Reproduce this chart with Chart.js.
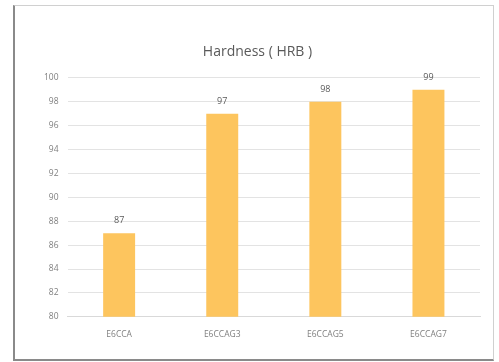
<!DOCTYPE html>
<html>
<head>
<meta charset="utf-8">
<script src="https://cdn.jsdelivr.net/npm/chart.js@4"></script>
<style>
  body { margin: 0; background: #fff; }
  .frame {
    position: absolute; left: 13px; top: 5px; width: 478px; height: 353px;
    border: 1px solid #d0d0d0; border-left: 2px solid #8a8a8a; border-bottom: 2px solid #8a8a8a;
    background: #fff;
  }
  canvas { display: block; }
</style>
</head>
<body>
<div class="frame"><canvas id="c" width="478" height="353"></canvas></div>
<script>
// chart data
const categories = ["E6CCA", "E6CCAG3", "E6CCAG5", "E6CCAG7"];
const hardness = [87, 97, 98, 99];
const yTicks = [80, 82, 84, 86, 88, 90, 92, 94, 96, 98, 100];

// draws the value over each bar
const valueLabels = {
  id: "valueLabels",
  afterDatasetsDraw(chart) {
    const ctx = chart.ctx;
    const meta = chart.getDatasetMeta(0);
    ctx.save();
    ctx.font = "9px 'Open Sans', sans-serif";
    ctx.fillStyle = "#595959";
    ctx.textAlign = "center";
    ctx.textBaseline = "bottom";
    meta.data.forEach((bar, i) => {
      ctx.fillText(hardness[i], bar.x, bar.y - 8);
    });
    ctx.restore();
  }
};

new Chart(document.getElementById("c"), {
  type: "bar",
  data: {
    labels: categories,
    datasets: [{
      data: hardness,
      backgroundColor: "#fdc55e",
      barPercentage: 0.31,
      categoryPercentage: 1
    }]
  },
  options: {
    responsive: false,
    animation: false,
    layout: { padding: { top: 38, left: 20, right: 13, bottom: 14 } },
    plugins: {
      legend: { display: false },
      tooltip: { enabled: false },
      title: {
        display: true,
        text: "Hardness ( HRB )",
        color: "#595959",
        font: { family: "'Open Sans', sans-serif", size: 14, weight: "normal" },
        padding: { top: 0, bottom: 17 }
      }
    },
    scales: {
      x: {
        grid: { display: false },
        border: { display: true, color: "#d9d9d9" },
        ticks: { color: "#7f7f7f", font: { family: "'Open Sans', sans-serif", size: 8.5 }, padding: 5 }
      },
      y: {
        min: yTicks[0],
        max: yTicks[yTicks.length - 1],
        afterBuildTicks(axis) { axis.ticks = yTicks.map(v => ({ value: v })); },
        grid: { color: "#e3e3e3", drawTicks: false },
        border: { display: false },
        ticks: { color: "#7f7f7f", font: { family: "'Open Sans', sans-serif", size: 8.5 }, padding: 9 }
      }
    }
  },
  plugins: [valueLabels]
});
</script>
</body>
</html>
